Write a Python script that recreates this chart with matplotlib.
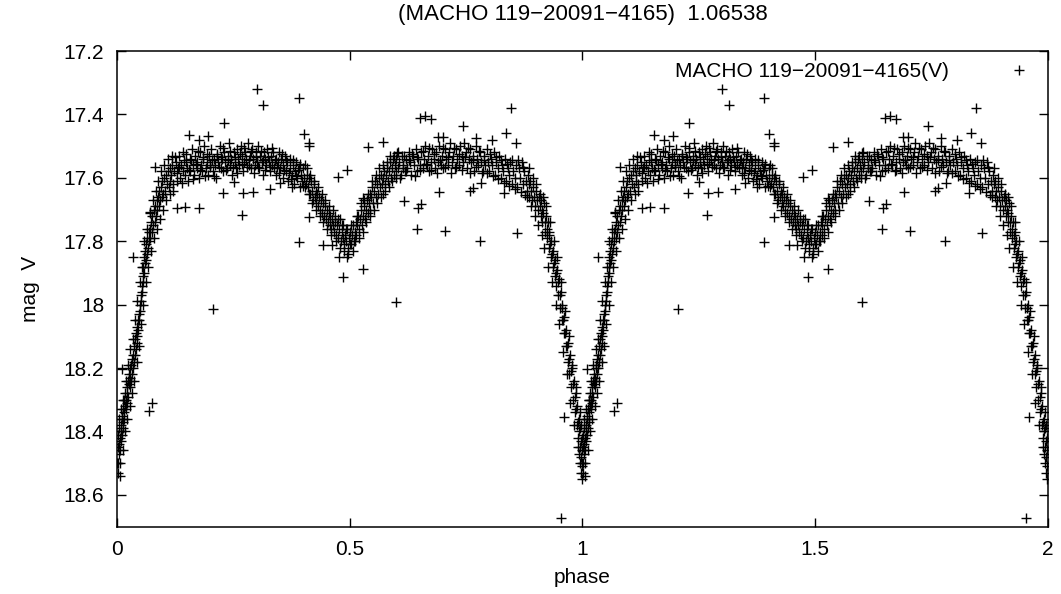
import matplotlib
matplotlib.use("Agg")
import matplotlib.pyplot as plt
import numpy as np
from matplotlib.ticker import FuncFormatter

plt.rcParams['font.family'] = ['Liberation Sans', 'DejaVu Sans']

star = "MACHO 119\u221220091\u22124165"
period = "1.06538"

# light curve, one cycle (phase 0..1), as (phase, mag V)
egress = [
    (0.000, 18.50), (0.001, 18.45), (0.001, 18.53), (0.002, 18.41), (0.003, 18.47), (0.004, 18.44),
    (0.004, 18.39), (0.005, 18.42), (0.006, 18.46), (0.007, 18.38), (0.007, 18.43), (0.008, 18.40),
    (0.009, 18.36), (0.010, 18.41), (0.010, 18.35), (0.011, 18.39), (0.012, 18.33), (0.013, 18.37),
    (0.014, 18.34), (0.015, 18.30), (0.015, 18.36), (0.016, 18.32), (0.017, 18.28), (0.018, 18.33),
    (0.019, 18.30), (0.020, 18.26), (0.020, 18.31), (0.021, 18.28), (0.022, 18.24), (0.023, 18.29),
    (0.024, 18.25), (0.025, 18.22), (0.026, 18.26), (0.027, 18.23), (0.028, 18.20), (0.029, 18.24),
    (0.030, 18.19), (0.031, 18.22), (0.032, 18.17), (0.033, 18.20), (0.034, 18.16), (0.035, 18.18),
    (0.036, 18.13), (0.037, 18.16), (0.038, 18.11), (0.039, 18.14), (0.040, 18.09), (0.041, 18.12),
    (0.042, 18.07), (0.043, 18.10), (0.044, 18.05), (0.045, 18.08), (0.046, 18.03), (0.047, 18.05),
    (0.048, 18.00), (0.049, 18.02), (0.050, 17.97), (0.051, 17.99), (0.052, 17.94), (0.053, 17.96),
    (0.054, 17.91), (0.055, 17.93), (0.056, 17.88), (0.057, 17.90), (0.058, 17.85), (0.059, 17.87),
    (0.060, 17.83), (0.061, 17.86), (0.062, 17.81), (0.063, 17.84), (0.064, 17.79), (0.066, 17.82),
    (0.067, 17.77), (0.068, 17.80), (0.070, 17.76), (0.071, 17.79), (0.072, 17.74), (0.074, 17.77),
    (0.075, 17.72), (0.077, 17.75), (0.078, 17.70), (0.080, 17.74), (0.081, 17.69), (0.083, 17.72),
    (0.084, 17.67), (0.086, 17.70), (0.087, 17.66), (0.089, 17.69), (0.090, 17.64), (0.092, 17.67),
    (0.093, 17.63), (0.095, 17.66), (0.096, 17.61), (0.098, 17.65), (0.100, 17.60), (0.102, 17.64),
    (0.104, 17.59), (0.106, 17.62), (0.108, 17.58), (0.110, 17.63), (0.112, 17.57), (0.114, 17.61),
    (0.116, 17.59), (0.118, 17.56), (0.120, 17.62),
    (0.003, 18.36), (0.006, 18.50), (0.008, 18.33), (0.011, 18.46), (0.013, 18.30), (0.016, 18.40),
    (0.018, 18.24), (0.021, 18.36), (0.023, 18.19), (0.026, 18.32), (0.028, 18.14), (0.031, 18.28),
    (0.033, 18.11), (0.036, 18.24), (0.038, 18.05), (0.041, 18.18), (0.043, 17.99), (0.046, 18.13),
    (0.048, 17.93), (0.051, 18.06), (0.053, 17.88), (0.056, 18.00), (0.058, 17.80), (0.061, 17.93),
    (0.063, 17.76), (0.065, 17.88), (0.069, 17.71), (0.072, 17.83), (0.076, 17.67), (0.079, 17.79),
    (0.082, 17.64), (0.085, 17.76), (0.088, 17.61), (0.091, 17.73), (0.094, 17.58), (0.097, 17.70),
    (0.101, 17.56), (0.105, 17.67), (0.109, 17.54), (0.113, 17.65), (0.117, 17.53), (0.119, 17.64),
]

max_one = [
    (0.122, 17.58), (0.125, 17.55), (0.127, 17.61), (0.130, 17.57), (0.132, 17.53), (0.135, 17.60),
    (0.137, 17.56), (0.140, 17.58), (0.142, 17.52), (0.145, 17.59), (0.147, 17.55), (0.150, 17.57),
    (0.152, 17.61), (0.155, 17.54), (0.157, 17.58), (0.160, 17.51), (0.162, 17.56), (0.165, 17.59),
    (0.167, 17.53), (0.170, 17.57), (0.172, 17.55), (0.175, 17.60), (0.177, 17.52), (0.180, 17.56),
    (0.182, 17.58), (0.185, 17.54), (0.187, 17.50), (0.190, 17.57), (0.192, 17.55), (0.195, 17.59),
    (0.197, 17.53), (0.200, 17.56), (0.202, 17.51), (0.205, 17.58), (0.207, 17.54), (0.210, 17.56),
    (0.212, 17.60), (0.215, 17.53), (0.217, 17.55), (0.220, 17.50), (0.222, 17.57), (0.225, 17.54),
    (0.227, 17.58), (0.230, 17.52), (0.232, 17.55), (0.235, 17.57), (0.237, 17.53), (0.240, 17.49),
    (0.242, 17.56), (0.245, 17.54), (0.247, 17.59), (0.250, 17.52), (0.252, 17.55), (0.255, 17.57),
    (0.257, 17.51), (0.260, 17.54), (0.262, 17.56), (0.265, 17.50), (0.267, 17.53), (0.270, 17.58),
    (0.272, 17.55), (0.275, 17.52), (0.277, 17.54), (0.280, 17.49), (0.282, 17.56), (0.285, 17.53),
    (0.287, 17.57), (0.290, 17.51), (0.292, 17.54), (0.295, 17.56), (0.297, 17.52), (0.300, 17.55),
    (0.302, 17.50), (0.305, 17.57), (0.307, 17.53), (0.310, 17.55), (0.312, 17.59), (0.315, 17.52),
    (0.317, 17.54), (0.320, 17.56), (0.322, 17.51), (0.325, 17.55), (0.327, 17.58), (0.330, 17.53),
    (0.332, 17.56), (0.335, 17.52), (0.337, 17.57), (0.340, 17.54), (0.342, 17.59), (0.345, 17.55),
    (0.347, 17.52), (0.350, 17.57), (0.352, 17.54), (0.355, 17.60), (0.357, 17.56), (0.360, 17.53),
    (0.362, 17.58), (0.365, 17.55), (0.367, 17.61), (0.370, 17.57), (0.372, 17.54), (0.375, 17.59),
    (0.377, 17.56), (0.380, 17.62), (0.382, 17.58), (0.385, 17.55), (0.387, 17.60), (0.390, 17.57),
    (0.392, 17.63), (0.395, 17.59), (0.397, 17.61), (0.400, 17.57),
    (0.123, 17.535), (0.128, 17.585), (0.133, 17.565), (0.138, 17.615), (0.143, 17.545), (0.148, 17.525),
    (0.153, 17.575), (0.158, 17.545), (0.163, 17.605), (0.168, 17.555), (0.173, 17.515), (0.178, 17.575),
    (0.183, 17.535), (0.188, 17.595), (0.193, 17.525), (0.198, 17.565), (0.203, 17.545), (0.208, 17.595),
    (0.213, 17.525), (0.218, 17.565), (0.223, 17.535), (0.228, 17.505), (0.233, 17.575), (0.238, 17.545),
    (0.243, 17.515), (0.248, 17.565), (0.253, 17.535), (0.258, 17.585), (0.263, 17.525), (0.268, 17.555),
    (0.273, 17.505), (0.278, 17.565), (0.283, 17.545), (0.288, 17.515), (0.293, 17.585), (0.298, 17.535),
    (0.303, 17.565), (0.308, 17.515), (0.313, 17.545), (0.318, 17.575), (0.323, 17.535), (0.328, 17.565),
    (0.333, 17.505), (0.338, 17.545), (0.343, 17.565), (0.348, 17.585), (0.353, 17.525), (0.358, 17.575),
    (0.363, 17.545), (0.368, 17.585), (0.373, 17.605), (0.378, 17.545), (0.383, 17.595), (0.388, 17.575),
    (0.393, 17.555), (0.398, 17.625),
]

secondary = [
    (0.402, 17.60), (0.404, 17.56), (0.406, 17.62), (0.408, 17.59), (0.410, 17.63), (0.412, 17.60),
    (0.414, 17.65), (0.416, 17.61), (0.418, 17.64), (0.420, 17.67), (0.422, 17.62), (0.424, 17.66),
    (0.426, 17.64), (0.428, 17.68), (0.430, 17.65), (0.432, 17.69), (0.434, 17.66), (0.436, 17.70),
    (0.438, 17.67), (0.440, 17.71), (0.442, 17.68), (0.444, 17.72), (0.446, 17.69), (0.448, 17.73),
    (0.450, 17.70), (0.452, 17.74), (0.454, 17.71), (0.456, 17.75), (0.458, 17.72), (0.460, 17.76),
    (0.462, 17.73), (0.464, 17.70), (0.466, 17.77), (0.468, 17.74), (0.470, 17.78), (0.472, 17.75),
    (0.474, 17.79), (0.476, 17.76), (0.478, 17.73), (0.480, 17.80), (0.482, 17.77), (0.484, 17.79),
    (0.486, 17.75), (0.488, 17.81), (0.490, 17.78), (0.492, 17.80), (0.494, 17.76), (0.496, 17.82),
    (0.498, 17.79), (0.500, 17.77), (0.502, 17.81), (0.504, 17.78), (0.506, 17.75), (0.508, 17.80),
    (0.510, 17.77), (0.512, 17.74), (0.514, 17.78), (0.516, 17.75), (0.518, 17.72), (0.520, 17.76),
    (0.522, 17.73), (0.524, 17.70), (0.526, 17.75), (0.528, 17.72), (0.530, 17.69), (0.532, 17.73),
    (0.534, 17.70), (0.536, 17.67), (0.538, 17.71), (0.540, 17.68), (0.542, 17.65), (0.544, 17.70),
    (0.546, 17.66), (0.548, 17.63), (0.550, 17.68), (0.552, 17.64), (0.554, 17.61), (0.556, 17.66),
    (0.558, 17.62), (0.560, 17.65), (0.562, 17.60), (0.564, 17.63), (0.566, 17.59), (0.568, 17.62),
    (0.570, 17.65), (0.572, 17.60), (0.574, 17.58), (0.576, 17.62), (0.578, 17.59), (0.580, 17.57),
    (0.582, 17.61), (0.584, 17.58), (0.586, 17.55), (0.588, 17.60), (0.590, 17.57), (0.592, 17.54),
    (0.594, 17.59), (0.596, 17.56), (0.598, 17.58), (0.600, 17.54), (0.603, 17.57), (0.606, 17.55),
    (0.609, 17.59), (0.612, 17.53), (0.615, 17.56), (0.618, 17.58),
    (0.403, 17.63), (0.407, 17.57), (0.411, 17.65), (0.415, 17.59), (0.419, 17.68), (0.423, 17.61),
    (0.427, 17.70), (0.431, 17.63), (0.435, 17.72), (0.439, 17.65), (0.443, 17.74), (0.447, 17.67),
    (0.451, 17.76), (0.455, 17.69), (0.459, 17.78), (0.463, 17.75), (0.467, 17.72), (0.471, 17.80),
    (0.475, 17.73), (0.479, 17.82), (0.483, 17.75), (0.487, 17.83), (0.491, 17.76), (0.495, 17.84),
    (0.499, 17.81), (0.503, 17.75), (0.507, 17.83), (0.511, 17.80), (0.515, 17.72), (0.519, 17.79),
    (0.523, 17.68), (0.527, 17.77), (0.531, 17.67), (0.535, 17.74), (0.539, 17.65), (0.543, 17.72),
    (0.547, 17.61), (0.551, 17.70), (0.555, 17.59), (0.559, 17.68), (0.563, 17.57), (0.567, 17.66),
    (0.571, 17.56), (0.575, 17.64), (0.579, 17.55), (0.583, 17.63), (0.587, 17.53), (0.591, 17.61),
    (0.595, 17.53), (0.599, 17.60), (0.604, 17.52), (0.608, 17.60), (0.613, 17.57), (0.617, 17.53),
]

max_two = [
    (0.620, 17.54), (0.623, 17.57), (0.626, 17.52), (0.629, 17.55), (0.632, 17.59), (0.635, 17.53),
    (0.638, 17.56), (0.641, 17.51), (0.644, 17.58), (0.647, 17.54), (0.650, 17.56), (0.653, 17.52),
    (0.656, 17.57), (0.659, 17.54), (0.662, 17.50), (0.665, 17.56), (0.668, 17.53), (0.671, 17.58),
    (0.674, 17.55), (0.677, 17.51), (0.680, 17.54), (0.683, 17.57), (0.686, 17.52), (0.689, 17.55),
    (0.692, 17.50), (0.695, 17.56), (0.698, 17.53), (0.701, 17.57), (0.704, 17.51), (0.707, 17.54),
    (0.710, 17.56), (0.713, 17.52), (0.716, 17.49), (0.719, 17.55), (0.722, 17.53), (0.725, 17.57),
    (0.728, 17.51), (0.731, 17.54), (0.734, 17.56), (0.737, 17.50), (0.740, 17.53), (0.743, 17.55),
    (0.746, 17.49), (0.749, 17.52), (0.752, 17.57), (0.755, 17.54), (0.758, 17.51), (0.761, 17.55),
    (0.764, 17.53), (0.767, 17.58), (0.770, 17.50), (0.773, 17.54), (0.776, 17.56), (0.779, 17.52),
    (0.782, 17.55), (0.785, 17.58), (0.788, 17.53), (0.791, 17.56), (0.794, 17.51), (0.797, 17.55),
    (0.800, 17.58), (0.803, 17.54), (0.806, 17.56), (0.809, 17.52), (0.812, 17.59), (0.815, 17.55),
    (0.818, 17.57), (0.821, 17.53), (0.824, 17.60), (0.827, 17.56), (0.830, 17.58), (0.833, 17.54),
    (0.836, 17.61), (0.839, 17.57), (0.842, 17.59), (0.845, 17.55), (0.848, 17.62), (0.851, 17.58),
    (0.854, 17.60), (0.857, 17.56), (0.860, 17.63), (0.863, 17.57), (0.866, 17.60), (0.869, 17.55),
    (0.872, 17.62), (0.875, 17.58), (0.878, 17.61),
    (0.621, 17.580), (0.627, 17.545), (0.633, 17.525), (0.639, 17.595), (0.645, 17.535), (0.651, 17.575),
    (0.657, 17.515), (0.663, 17.555), (0.669, 17.505), (0.675, 17.575), (0.681, 17.525), (0.687, 17.585),
    (0.693, 17.545), (0.699, 17.505), (0.705, 17.565), (0.711, 17.535), (0.717, 17.585), (0.723, 17.505),
    (0.729, 17.565), (0.735, 17.525), (0.741, 17.575), (0.747, 17.535), (0.753, 17.505), (0.759, 17.585),
    (0.765, 17.545), (0.771, 17.565), (0.777, 17.515), (0.783, 17.585), (0.789, 17.545), (0.795, 17.585),
    (0.801, 17.525), (0.807, 17.595), (0.813, 17.535), (0.819, 17.605), (0.825, 17.545), (0.831, 17.615),
    (0.837, 17.555), (0.843, 17.625), (0.849, 17.545), (0.855, 17.635), (0.861, 17.545), (0.867, 17.645),
    (0.873, 17.565), (0.877, 17.655),
]

ingress = [
    (0.880, 17.64), (0.882, 17.59), (0.884, 17.62), (0.886, 17.66), (0.888, 17.61), (0.890, 17.64),
    (0.892, 17.67), (0.894, 17.63), (0.896, 17.66), (0.898, 17.69), (0.900, 17.64), (0.902, 17.67),
    (0.904, 17.70), (0.906, 17.66), (0.908, 17.69), (0.910, 17.72), (0.911, 17.67), (0.913, 17.70),
    (0.914, 17.74), (0.916, 17.71), (0.917, 17.68), (0.919, 17.74), (0.920, 17.77), (0.921, 17.72),
    (0.923, 17.76), (0.924, 17.79), (0.925, 17.74), (0.927, 17.78), (0.928, 17.82), (0.929, 17.77),
    (0.931, 17.81), (0.932, 17.85), (0.933, 17.80), (0.935, 17.84), (0.936, 17.88), (0.937, 17.83),
    (0.939, 17.87), (0.940, 17.91), (0.941, 17.86), (0.943, 17.90), (0.944, 17.94), (0.945, 17.89),
    (0.947, 17.93), (0.948, 17.97), (0.949, 17.92), (0.951, 17.97), (0.952, 18.01), (0.953, 17.96),
    (0.955, 18.01), (0.956, 18.05), (0.957, 18.00), (0.959, 18.05), (0.960, 18.09), (0.961, 18.04),
    (0.963, 18.09), (0.964, 18.13), (0.965, 18.08), (0.967, 18.13), (0.968, 18.18), (0.969, 18.12),
    (0.971, 18.17), (0.972, 18.22), (0.973, 18.16), (0.975, 18.21), (0.976, 18.26), (0.977, 18.20),
    (0.979, 18.25), (0.980, 18.30), (0.981, 18.24), (0.983, 18.29), (0.984, 18.34), (0.985, 18.28),
    (0.987, 18.33), (0.988, 18.38), (0.989, 18.32), (0.990, 18.37), (0.991, 18.42), (0.992, 18.36),
    (0.993, 18.40), (0.994, 18.45), (0.995, 18.39), (0.996, 18.43), (0.997, 18.48), (0.998, 18.42),
    (0.999, 18.46), (0.999, 18.51), (0.997, 18.53), (0.995, 18.50), (0.993, 18.47),
    (0.881, 17.66), (0.885, 17.57), (0.889, 17.69), (0.893, 17.60), (0.897, 17.72), (0.901, 17.62),
    (0.905, 17.75), (0.909, 17.65), (0.912, 17.78), (0.915, 17.66), (0.918, 17.82), (0.922, 17.69),
    (0.926, 17.88), (0.930, 17.74), (0.934, 17.93), (0.938, 17.80), (0.942, 18.00), (0.946, 17.85),
    (0.950, 18.06), (0.954, 17.93), (0.958, 18.15), (0.962, 18.02), (0.966, 18.22), (0.970, 18.10),
    (0.974, 18.31), (0.978, 18.19), (0.982, 18.38), (0.986, 18.26), (0.990, 18.45), (0.994, 18.34),
    (0.998, 18.55), (0.996, 18.38),
]

outliers = [
    (0.301, 17.321), (0.314, 17.371), (0.391, 17.349), (0.229, 17.428), (0.846, 17.381),
    (0.650, 17.412), (0.661, 17.405), (0.674, 17.415), (0.742, 17.437), (0.402, 17.462),
    (0.412, 17.490), (0.412, 17.500), (0.539, 17.504), (0.572, 17.486), (0.835, 17.460),
    (0.857, 17.490), (0.154, 17.465), (0.176, 17.481), (0.195, 17.468), (0.081, 17.567),
    (0.475, 17.596), (0.493, 17.575), (0.2275, 17.647), (0.328, 17.636), (0.267, 17.717),
    (0.176, 17.694), (0.127, 17.694), (0.145, 17.691), (0.390, 17.803), (0.443, 17.812),
    (0.461, 17.812), (0.477, 17.849), (0.494, 17.851), (0.527, 17.889), (0.484, 17.912),
    (0.527, 17.665), (0.4125, 17.723), (0.645, 17.763), (0.704, 17.768), (0.780, 17.800),
    (0.860, 17.773), (0.616, 17.673), (0.647, 17.696), (0.652, 17.683), (0.692, 17.644),
    (0.758, 17.641), (0.765, 17.633), (0.781, 17.617), (0.832, 17.649), (0.034, 17.851),
    (0.602, 17.521), (0.2505, 17.612), (0.2705, 17.649), (0.291, 17.644), (0.070, 17.707),
    (0.349, 17.617), (0.375, 17.628), (0.206, 18.015), (0.600, 17.991), (0.075, 18.310),
    (0.068, 18.336), (0.0103, 18.204), (0.953, 18.674), (0.961, 18.354), (0.002, 18.500),
    (0.005, 18.540), (0.690, 17.470), (0.700, 17.470), (0.772, 17.475), (0.805, 17.480),
]

x_ticks = [0, 0.5, 1, 1.5, 2]
y_ticks = [17.2, 17.4, 17.6, 17.8, 18.0, 18.2, 18.4, 18.6]

pts = np.array(egress + max_one + secondary + max_two + ingress + outliers)
phase = pts[:, 0]
mag = pts[:, 1]
# the cycle is drawn twice, phase 0..2
phase2 = np.concatenate([phase, phase + 1])
mag2 = np.concatenate([mag, mag])

fig = plt.figure(figsize=(10.61, 5.94), dpi=100)
ax = fig.add_axes([0.1107, 0.1136, 0.8766, 0.8005])

ax.plot(phase2, mag2, linestyle='none', marker='+', color='black',
        markersize=7.5, markeredgewidth=1.0, label=star + "(V)")

ax.set_xlim(0, 2)
ax.set_ylim(18.7, 17.2)
ax.set_xticks(x_ticks)
ax.set_yticks(y_ticks)
fmt = FuncFormatter(lambda v, p: '%g' % v)
ax.xaxis.set_major_formatter(fmt)
ax.yaxis.set_major_formatter(fmt)
ax.tick_params(direction='in', length=6.5, width=1, top=True, right=True,
               labelsize=15, pad=9.5)
for s in ax.spines.values():
    s.set_linewidth(1.1)

ax.set_xlabel('phase', fontsize=15, labelpad=7)
ax.set_ylabel('mag  V', fontsize=15, labelpad=17)
ax.set_title('(' + star + ')  ' + period, fontsize=16, pad=22)

ax.legend(loc='upper right', bbox_to_anchor=(0.992, 0.977), markerfirst=False,
          frameon=False, fontsize=15, handlelength=2, handletextpad=2.4,
          borderpad=0, borderaxespad=0)

fig.savefig('out.png', dpi=100)
